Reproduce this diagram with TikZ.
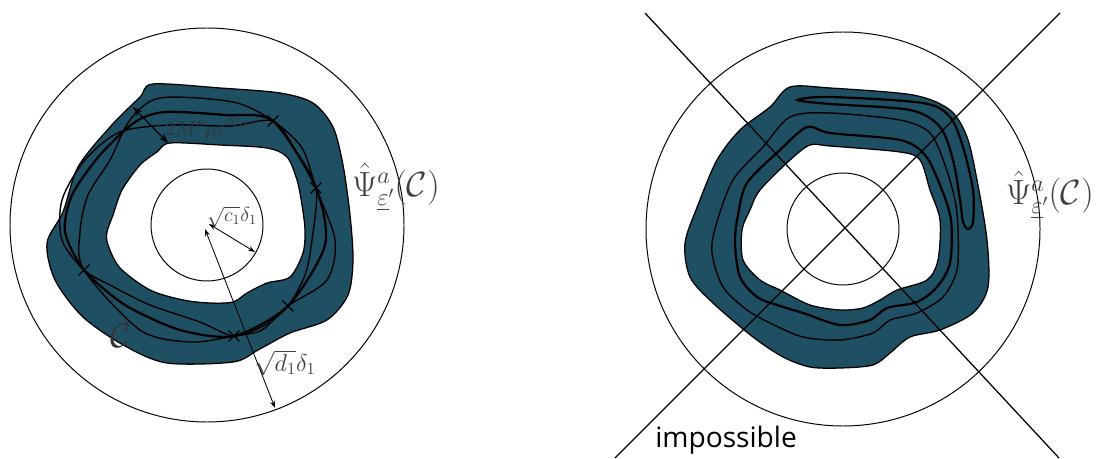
\documentclass[tikz,border=0pt]{standalone}
\usepackage{amsmath,amssymb}
\usepackage{fontspec}
\newfontfamily\opensans{Open Sans}
\usetikzlibrary{arrows.meta,shapes.misc,calc}
\definecolor{bandblue}{RGB}{31,79,99}
\definecolor{labelgray}{RGB}{64,64,64}

\begin{document}
\begin{tikzpicture}[x=0.025cm,y=-0.025cm,
  band/.style={fill=bandblue, even odd rule, draw=black, line width=0.9pt},
  edge/.style={line width=0.7pt},
  thickc/.style={line width=1.6pt},
  thinc/.style={line width=1pt},
  xmark/.style={cross out, draw, line width=0.8pt, minimum size=7pt, inner sep=0pt},
  dimarrow/.style={line width=0.6pt, {Stealth[length=5pt,width=3.5pt]}-{Stealth[length=5pt,width=3.5pt]}},
  bigarrow/.style={line width=0.8pt, {Stealth[length=7pt,width=5pt]}-{Stealth[length=7pt,width=5pt]}},
  lbl/.style={text=labelgray, inner sep=0pt}]
  \useasboundingbox (0,0) rectangle (1104,459);

  % ---------- left picture ----------
  \coordinate (lc) at (207,225);
  \draw[edge] (lc) circle[radius=197];
  \draw[edge] (lc) circle[radius=56];
  % the band
  \path[band] plot[smooth cycle] coordinates {(153,84) (220,88) (280,93) (313,103) (333,127)
      (343,165) (350,215) (353,260) (348,295) (327,320) (290,333) (258,350) (233,362)
      (167,363) (125,346) (83,317) (55,280) (47,243) (63,212) (78,167) (110,127) (140,97)}
    plot[smooth cycle] coordinates {(170,143) (220,145) (267,148) (287,157) (297,180)
      (302,205) (305,230) (303,253) (290,277) (267,283) (247,293) (233,302) (210,303)
      (183,300) (150,290) (120,268) (108,245) (107,232) (113,215) (122,190) (140,165) (157,152)};
  % curve C and the two curves crossing it
  \draw[thickc] plot[smooth cycle, tension=0.45] coordinates {(273,121) (316,188) (325,245)
      (288,306) (234,336) (180,330) (125,305) (84,270) (65,232) (72,195) (100,155)
      (135,122) (165,112) (225,115)};
  \draw[thinc] plot[smooth cycle] coordinates {(160,98) (233,102) (273,121) (302,148)
      (316,188) (335,240) (327,280) (288,306) (262,330) (234,336) (190,342) (140,330)
      (84,270) (80,232) (88,195) (110,160) (130,120)};
  \draw[thinc] plot[smooth cycle] coordinates {(170,125) (230,126) (273,121) (295,150)
      (316,188) (312,240) (305,275) (288,306) (265,325) (234,336) (200,322) (150,305)
      (110,285) (84,270) (62,240) (62,200) (85,160) (120,132)};
  % marked points
  \node[xmark] (m1) at (273,121) {};
  \node[xmark] (m2) at (316,188) {};
  \node[xmark] (m3) at (288,306) {};
  \node[xmark] (m4) at (234,336) {};
  \node[xmark] (m5) at (84,270) {};
  % widths
  \coordinate (wa) at (133,107);
  \coordinate (wb) at (168,143);
  \draw[bigarrow] (wa) -- (wb);
  \coordinate (ca) at (209,224);
  \coordinate (cb) at (255,252);
  \draw[dimarrow] (ca) -- (cb);
  \coordinate (da) at (205,229);
  \coordinate (db) at (275,408);
  \draw[dimarrow] (da) -- (db);
  % labels
  \node[lbl, text=black!80, font=\fontsize{14}{16}\selectfont] (wlbl) at (206,129) {$2M''\mu\varepsilon^{No}$};
  \node[lbl, font=\fontsize{14}{16}\selectfont] (clbl) at (232,217) {$\sqrt{c_1}\delta_1$};
  \node[lbl, font=\fontsize{17}{20}\selectfont] (dlbl) at (285,363) {$\sqrt{d_1}\delta_1$};
  \node[lbl, text=black!80, font=\fontsize{26}{30}\selectfont] (curvelbl) at (121,336) {$\mathcal{C}$};
  \node[lbl, font=\fontsize{24}{28}\selectfont] (psileft) at (396,187) {$\hat\Psi^a_{\underline{\varepsilon}'}(\mathcal{C})$};

  % ---------- right picture ----------
  \coordinate (rc) at (843,229);
  \draw[edge] (rc) circle[radius=197];
  \draw[edge] (rc) circle[radius=56];
  % the band
  \path[band] plot[smooth cycle] coordinates {(790,87) (830,88) (913,95) (950,110) (967,137)
      (977,180) (987,240) (988,287) (973,313) (940,330) (910,337) (890,353) (873,365)
      (840,368) (810,367) (783,357) (753,337) (713,303) (690,277) (685,243) (698,205)
      (717,160) (740,130) (770,107)}
    plot[smooth cycle] coordinates {(810,145) (830,146) (900,152) (920,160) (930,190)
      (940,220) (938,260) (927,280) (897,290) (880,300) (863,308) (840,310) (810,305)
      (780,290) (760,280) (743,260) (742,230) (750,210) (760,190) (790,160)};
  % folded curve
  \draw[thickc] plot[smooth cycle] coordinates {(797,100) (830,97) (923,103) (950,117)
      (963,147) (973,190) (973,222) (968,229) (963,222) (960,200) (953,160) (940,127)
      (910,110) (830,104)};
  \draw[thinc] plot[smooth cycle] coordinates {(790,117) (830,113) (900,120) (930,133)
      (945,165) (955,200) (958,230) (957,270) (943,297) (917,313) (890,320) (873,333)
      (840,340) (803,337) (770,323) (747,310) (723,287) (712,253) (716,225) (733,180) (763,147)};
  \draw[thickc] plot[smooth cycle] coordinates {(807,127) (830,133) (900,140) (925,155)
      (940,185) (951,220) (950,263) (937,287) (917,302) (887,308) (870,320) (840,325)
      (803,313) (777,305) (757,297) (740,277) (735,243) (738,215) (747,183) (780,150)};
  % crossing lines
  \coordinate (xa) at (645,13);
  \coordinate (xb) at (1059,458);
  \coordinate (ya) at (1060,13);
  \coordinate (yb) at (615,458);
  \draw[line width=0.9pt] (xa) -- (xb);
  \draw[line width=0.9pt] (ya) -- (yb);
  % labels
  \node[lbl, font=\fontsize{24}{28}\selectfont] (psiright) at (1050,195) {$\hat\Psi^a_{\underline{\varepsilon}'}(\mathcal{C})$};
  \node[anchor=base west, inner sep=0pt, font=\opensans\fontsize{20}{24}\selectfont] (imp) at (655,447) {impossible};
\end{tikzpicture}
\end{document}
